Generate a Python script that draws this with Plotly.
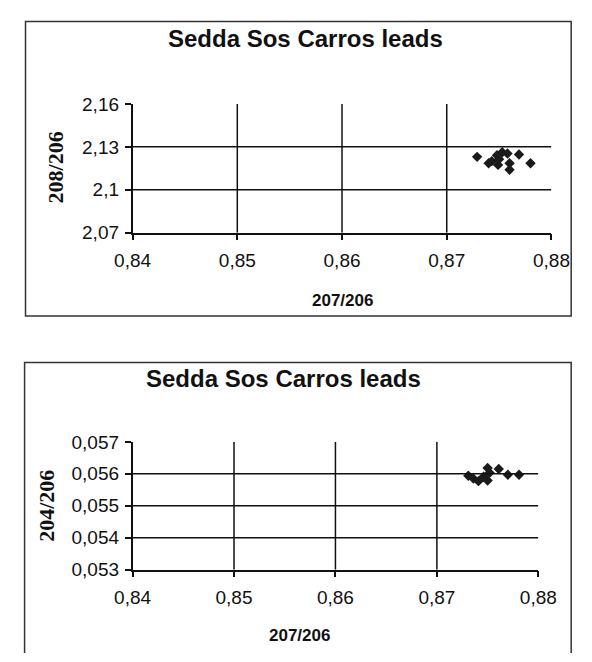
import plotly.graph_objects as go

# ---- data ----
title_text = "Sedda Sos Carros leads"
x_title = "207/206"

# top chart: 207/206 vs 208/206
top_x = [0.8729, 0.8740, 0.8743, 0.8748, 0.8749, 0.8750, 0.8753, 0.8758, 0.8760, 0.8760, 0.8769, 0.8780]
top_y = [2.1230, 2.1185, 2.1200, 2.1241, 2.1174, 2.1214, 2.1262, 2.1253, 2.1185, 2.1140, 2.1246, 2.1185]
top_ytitle = "208/206"
top_yticks = [2.07, 2.10, 2.13, 2.16]
top_yticktext = ["2,07", "2,1", "2,13", "2,16"]
top_ygrid = [2.10, 2.13]

# bottom chart: 207/206 vs 204/206
bot_x = [0.8731, 0.8736, 0.8741, 0.8746, 0.8750, 0.8750, 0.8752, 0.8761, 0.8770, 0.8781]
bot_y = [0.05594, 0.05585, 0.05577, 0.05591, 0.05618, 0.05579, 0.05603, 0.05615, 0.05597, 0.05597]
bot_ytitle = "204/206"
bot_yticks = [0.053, 0.054, 0.055, 0.056, 0.057]
bot_yticktext = ["0,053", "0,054", "0,055", "0,056", "0,057"]
bot_ygrid = [0.054, 0.055, 0.056]

xticks = [0.84, 0.85, 0.86, 0.87, 0.88]
xticktext = ["0,84", "0,85", "0,86", "0,87", "0,88"]
xgrid = [0.85, 0.86, 0.87]

W, H = 592, 662
fig = go.Figure()

marker = dict(symbol="diamond", size=8, color="#1a1a1a")
fig.add_trace(go.Scatter(x=top_x, y=top_y, mode="markers", marker=marker,
                         xaxis="x", yaxis="y", showlegend=False))
fig.add_trace(go.Scatter(x=bot_x, y=bot_y, mode="markers", marker=marker,
                         xaxis="x2", yaxis="y2", showlegend=False))

tickfont = dict(family="Liberation Sans, Arial", size=19, color="#111")
axcommon = dict(showgrid=False, zeroline=False, showline=True, linecolor="#111",
                linewidth=1.5, ticks="outside", ticklen=6, tickcolor="#111",
                tickwidth=1.5, tickfont=tickfont)

fig.update_layout(
    width=W, height=H,
    margin=dict(l=0, r=0, t=0, b=0),
    paper_bgcolor="white", plot_bgcolor="white",
    xaxis=dict(domain=[122 / W, 568 / W], range=[0.84, 0.88], tickvals=xticks,
               ticktext=xticktext, anchor="y", ticklabelstandoff=4, **axcommon),
    yaxis=dict(domain=[1 - 230 / H, 1 - 97 / H], range=[2.07, 2.16],
               tickvals=top_yticks, ticktext=top_yticktext, anchor="x",
               ticklabelstandoff=2, **axcommon),
    xaxis2=dict(domain=[122 / W, 554 / W], range=[0.84, 0.88], tickvals=xticks,
                ticktext=xticktext, anchor="y2", ticklabelstandoff=4, **axcommon),
    yaxis2=dict(domain=[1 - 578 / H, 1 - 446 / H], range=[0.053, 0.057],
                tickvals=bot_yticks, ticktext=bot_yticktext, anchor="x2",
                ticklabelstandoff=2, **axcommon),
)

shapes = []
gl = dict(color="#111", width=1.5)
for gx in xgrid:
    shapes.append(dict(type="line", xref="x", yref="y", x0=gx, x1=gx, y0=2.07, y1=2.16, line=gl))
    shapes.append(dict(type="line", xref="x2", yref="y2", x0=gx, x1=gx, y0=0.053, y1=0.057, line=gl))
for gy in top_ygrid:
    shapes.append(dict(type="line", xref="x", yref="y", x0=0.84, x1=0.88, y0=gy, y1=gy, line=gl))
for gy in bot_ygrid:
    shapes.append(dict(type="line", xref="x2", yref="y2", x0=0.84, x1=0.88, y0=gy, y1=gy, line=gl))


def px(xp):
    return xp / W


def py(yp):
    return 1 - yp / H


# chart frames
shapes.append(dict(type="rect", xref="paper", yref="paper", x0=px(8), x1=px(589),
                   y0=py(316), y1=py(12), line=dict(color="#333", width=1.5)))
shapes.append(dict(type="path", xref="paper", yref="paper",
                   path=f"M {px(7)},{py(664)} L {px(7)},{py(364)} L {px(589)},{py(364)} L {px(589)},{py(664)}",
                   line=dict(color="#333", width=1.5)))
fig.update_layout(shapes=shapes)

titlefont = dict(family="Liberation Sans, Arial", size=24, color="#111")
xtfont = dict(family="Liberation Sans, Arial", size=17, color="#111")
ytfont = dict(family="Liberation Serif, Times New Roman", size=22, color="#111")
ann = [
    dict(text=f"<b>{title_text}</b>", x=px(306), y=py(29), font=titlefont),
    dict(text=f"<b>{title_text}</b>", x=px(283), y=py(381), font=titlefont),
    dict(text=f"<b>{x_title}</b>", x=px(345), y=py(300), font=xtfont),
    dict(text=f"<b>{x_title}</b>", x=px(300), y=py(646), font=xtfont),
    dict(text=f"<b>{top_ytitle}</b>", x=px(40), y=py(163), font=ytfont, textangle=-90),
    dict(text=f"<b>{bot_ytitle}</b>", x=px(31), y=py(512), font=ytfont, textangle=-90),
]
for a in ann:
    a.update(xref="paper", yref="paper", showarrow=False, xanchor="center", yanchor="middle")
fig.update_layout(annotations=ann)

fig.write_html("out.html", config={"displayModeBar": False},
               post_script="document.body.style.margin='0';")
